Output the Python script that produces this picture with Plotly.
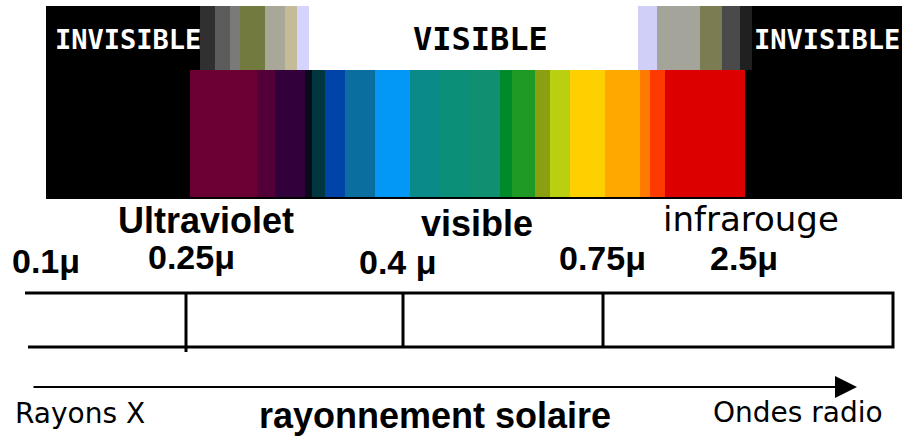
"""
Solar radiation spectrum diagram rebuilt with Plotly: colour bands drawn as
stacked bars, the wavelength ruler drawn with line traces, labels as annotations.
"""
import plotly.graph_objects as go

# --- data -----------------------------------------------------------------
# upper band (grey / white "VISIBLE" strip), stripe edges in image units
UPPER_EDGES = [200, 215, 230, 240, 265, 285, 297, 309, 638, 657, 700, 722, 740, 752]
UPPER_COLORS = ["#303030", "#5c5c5c", "#7a7a78", "#727a40", "#a9a898", "#c3bc96",
                "#d4d4ff", "#ffffff", "#cfcff8", "#a4a49a", "#7c7c52", "#4a4a4a", "#202020"]

# lower band (the coloured spectrum)
SPECTRUM_EDGES = [190, 257, 275, 305, 312, 325, 345, 375, 410, 440, 470, 500, 512, 535,
                  550, 570, 605, 640, 650, 665, 745]
SPECTRUM_COLORS = ["#6a0033", "#530038", "#32003a", "#0a0a1a", "#00363f", "#0044a8",
                   "#0a6e9e", "#0398f5", "#0a8a88", "#0c8f78", "#109070", "#008a2a",
                   "#1f9a25", "#8aa010", "#b8d010", "#ffd000", "#ffa800", "#ff7a00",
                   "#ff3a00", "#dc0000"]

BAND_LABELS = ["Ultraviolet", "visible", "infrarouge"]
WAVELENGTH_LABELS = ["0.1μ", "0.25μ", "0.4 μ", "0.75μ", "2.5μ"]
DIVIDER_X = [186, 403, 603]          # 0.25μ, 0.4μ, 0.75μ boundaries

# --- layout constants -------------------------------------------------------
W, H = 906, 436
BOX = dict(x0=46, x1=902, y0=6, y1=199)
UPPER_Y = (6, 70)
SPECTRUM_Y = (70, 197)
RULER = dict(x0=25, x1=893, y0=293, y1=347)
ARROW_Y = 387

SANS = "Liberation Sans, Arial, sans-serif"
DEJAVU = "DejaVu Sans, Verdana, sans-serif"
MONO = "DejaVu Sans Mono, monospace"


def _stripes(edges, colors, y_range):
    centers = [(a + b) / 2 for a, b in zip(edges[:-1], edges[1:])]
    widths = [b - a for a, b in zip(edges[:-1], edges[1:])]
    return go.Bar(
        x=centers, width=widths, base=y_range[0],
        y=[y_range[1] - y_range[0]] * len(centers),
        marker=dict(color=colors, line_width=0),
        hoverinfo="skip", showlegend=False,
    )


fig = go.Figure()

# black backdrop
fig.add_trace(go.Bar(x=[(BOX["x0"] + BOX["x1"]) / 2], width=[BOX["x1"] - BOX["x0"]],
                     base=BOX["y0"], y=[BOX["y1"] - BOX["y0"]],
                     marker=dict(color="#000000", line_width=0),
                     hoverinfo="skip", showlegend=False))
fig.add_trace(_stripes(UPPER_EDGES, UPPER_COLORS, UPPER_Y))
fig.add_trace(_stripes(SPECTRUM_EDGES, SPECTRUM_COLORS, SPECTRUM_Y))

# ruler: top / bottom rails, right end, dividers
xs, ys = [], []
xs += [RULER["x0"], RULER["x1"], RULER["x1"], RULER["x0"] + 3, None]
ys += [RULER["y0"], RULER["y0"], RULER["y1"], RULER["y1"], None]
for i, dx in enumerate(DIVIDER_X):
    xs += [dx, dx, None]
    ys += [RULER["y0"], RULER["y1"] + (5 if i == 0 else 0), None]
fig.add_trace(go.Scatter(x=xs, y=ys, mode="lines",
                         line=dict(color="#000000", width=3),
                         hoverinfo="skip", showlegend=False))

annotations = []

# header words inside the black box
for text, x, color, font in [
    ("INVISIBLE", 128, "#ffffff", dict(family=MONO, size=27, weight="bold")),
    ("VISIBLE", 480, "#000000", dict(family=MONO, size=32, weight="bold")),
    ("INVISIBLE", 827, "#ffffff", dict(family=MONO, size=27, weight="bold")),
]:
    annotations.append(dict(x=x, y=39, text=text, showarrow=False,
                            font=dict(color=color, **font)))

# band names
band_x = [206, 477, 751]
band_y = [220, 223, 219]
for i, text in enumerate(BAND_LABELS):
    if text == "infrarouge":
        f = dict(family=DEJAVU, size=34, color="#000000")
    else:
        f = dict(family=SANS, size=36, color="#000000", weight="bold")
    annotations.append(dict(x=band_x[i], y=band_y[i], text=text,
                            showarrow=False, font=f))

# wavelength ticks
tick_x = [46, 191, 398, 602, 744]
tick_y = [261, 257, 262, 258, 258]
for i, text in enumerate(WAVELENGTH_LABELS):
    annotations.append(dict(x=tick_x[i], y=tick_y[i], text=text, showarrow=False,
                            font=dict(family=SANS, size=34, color="#000000",
                                      weight="bold")))

# arrow and bottom captions
annotations.append(dict(x=857, y=ARROW_Y, ax=32, ay=ARROW_Y, xref="x", yref="y",
                        axref="x", ayref="y", text="", showarrow=True,
                        arrowhead=2, arrowsize=2.2, arrowwidth=2,
                        arrowcolor="#000000"))
annotations.append(dict(x=13, y=413, text="Rayons X", xanchor="left",
                        showarrow=False,
                        font=dict(family=DEJAVU, size=28, color="#000000")))
annotations.append(dict(x=435, y=415, text="rayonnement solaire", showarrow=False,
                        font=dict(family=SANS, size=36, color="#000000",
                                  weight="bold")))
annotations.append(dict(x=798, y=412, text="Ondes radio", showarrow=False,
                        font=dict(family=DEJAVU, size=28, color="#000000")))

fig.update_layout(
    width=W, height=H,
    margin=dict(l=0, r=0, t=0, b=0),
    paper_bgcolor="#ffffff", plot_bgcolor="#ffffff",
    barmode="overlay", bargap=0,
    xaxis=dict(range=[0, W], visible=False, fixedrange=True),
    yaxis=dict(range=[H, 0], visible=False, fixedrange=True),
    annotations=annotations,
    showlegend=False,
)

# the page body has a default 8px margin; drop it so the figure fills the window
fig.write_html("out.html", config=dict(displayModeBar=False),
               post_script="document.body.style.margin='0';")
